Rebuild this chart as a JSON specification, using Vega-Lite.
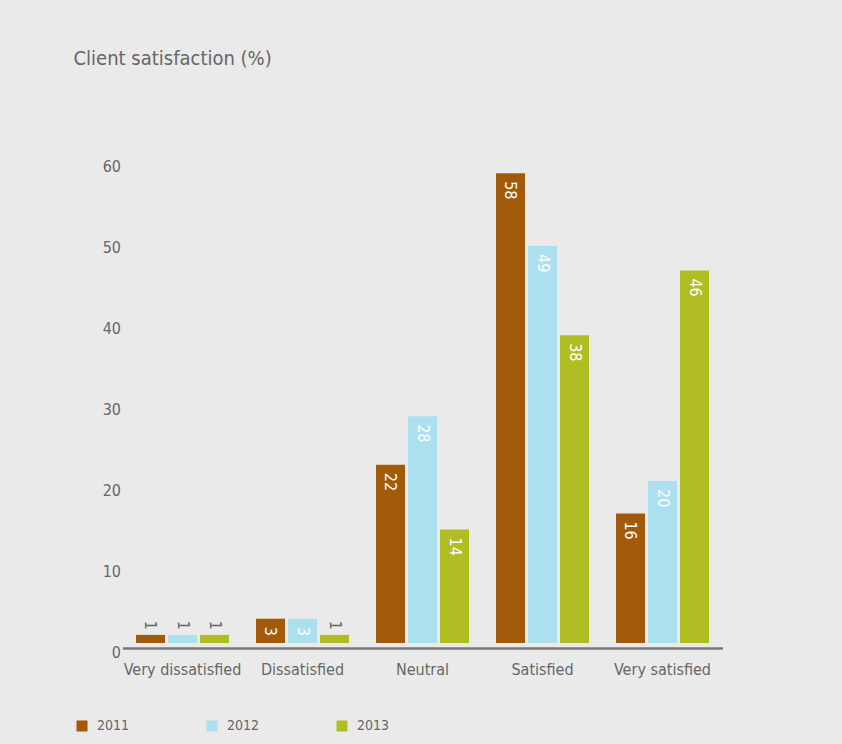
{
  "$schema": "https://vega.github.io/schema/vega-lite/v6.json",
  "autosize": "none",
  "width": 600,
  "height": 486,
  "padding": {"left": 122.5, "top": 157, "right": 119.5, "bottom": 101},
  "background": "#EAEAEA",
  "config": {"view": {"stroke": null}},
  "title": {
    "text": "Client satisfaction (%)",
    "anchor": "start",
    "frame": "group",
    "dx": -49,
    "offset": 88,
    "font": "Liberation Sans Narrow, DejaVu Sans Condensed, sans-serif",
    "fontSize": 20,
    "fontWeight": "normal",
    "color": "#666666"
  },
  "data": {
    "values": [
      {"category": "Very dissatisfied", "year": "2011", "value": 1},
      {"category": "Very dissatisfied", "year": "2012", "value": 1},
      {"category": "Very dissatisfied", "year": "2013", "value": 1},
      {"category": "Dissatisfied", "year": "2011", "value": 3},
      {"category": "Dissatisfied", "year": "2012", "value": 3},
      {"category": "Dissatisfied", "year": "2013", "value": 1},
      {"category": "Neutral", "year": "2011", "value": 22},
      {"category": "Neutral", "year": "2012", "value": 28},
      {"category": "Neutral", "year": "2013", "value": 14},
      {"category": "Satisfied", "year": "2011", "value": 58},
      {"category": "Satisfied", "year": "2012", "value": 49},
      {"category": "Satisfied", "year": "2013", "value": 38},
      {"category": "Very satisfied", "year": "2011", "value": 16},
      {"category": "Very satisfied", "year": "2012", "value": 20},
      {"category": "Very satisfied", "year": "2013", "value": 46}
    ]
  },
  "encoding": {
    "x": {
      "field": "category",
      "type": "nominal",
      "sort": ["Very dissatisfied", "Dissatisfied", "Neutral", "Satisfied", "Very satisfied"],
      "scale": {"paddingInner": 0.225, "paddingOuter": 0.1125},
      "axis": {
        "title": null,
        "labelAngle": 0,
        "ticks": false,
        "offset": 5,
        "domainColor": "#77777A",
        "domainWidth": 2.5,
        "labelPadding": 13,
        "labelFontSize": 16,
        "labelColor": "#666666",
        "labelFont": "Liberation Sans Narrow, DejaVu Sans Condensed, sans-serif"
      }
    },
    "xOffset": {
      "field": "year",
      "type": "nominal",
      "scale": {"paddingInner": 0.094, "paddingOuter": 0}
    },
    "y": {
      "field": "value",
      "type": "quantitative",
      "scale": {"domain": [0, 60], "nice": false},
      "axis": {
        "title": null,
        "values": [0, 10, 20, 30, 40, 50, 60],
        "domain": false,
        "ticks": false,
        "grid": false,
        "labelPadding": 2,
        "labelOffset": 9,
        "labelFontSize": 16,
        "labelColor": "#666666",
        "labelFont": "Liberation Sans Narrow, DejaVu Sans Condensed, sans-serif"
      }
    }
  },
  "layer": [
    {
      "mark": {"type": "bar"},
      "encoding": {
        "color": {
          "field": "year",
          "type": "nominal",
          "scale": {"domain": ["2011", "2012", "2013"], "range": ["#A1590A", "#ADE0EE", "#B0BE24"]},
          "legend": {
            "title": null,
            "orient": "none",
            "legendX": -47.5,
            "legendY": 562,
            "direction": "horizontal",
            "symbolType": "square",
            "symbolSize": 121,
            "symbolStrokeWidth": 0,
            "columnPadding": 75,
            "labelOffset": 8,
            "labelFontSize": 14,
            "labelColor": "#666666",
            "labelFont": "Liberation Sans Narrow, DejaVu Sans Condensed, sans-serif"
          }
        }
      }
    },
    {
      "transform": [{"filter": "datum.value >= 2"}],
      "mark": {
        "type": "text",
        "angle": 90,
        "align": "left",
        "baseline": "middle",
        "dx": 8,
        "fontSize": 16,
        "font": "Liberation Sans Narrow, DejaVu Sans Condensed, sans-serif",
        "color": "white"
      },
      "encoding": {"text": {"field": "value", "type": "quantitative"}}
    },
    {
      "transform": [{"filter": "datum.value < 2"}],
      "mark": {
        "type": "text",
        "angle": 90,
        "align": "right",
        "baseline": "middle",
        "dx": -5,
        "fontSize": 16,
        "font": "Liberation Sans Narrow, DejaVu Sans Condensed, sans-serif",
        "color": "#666666"
      },
      "encoding": {"text": {"field": "value", "type": "quantitative"}}
    }
  ]
}
